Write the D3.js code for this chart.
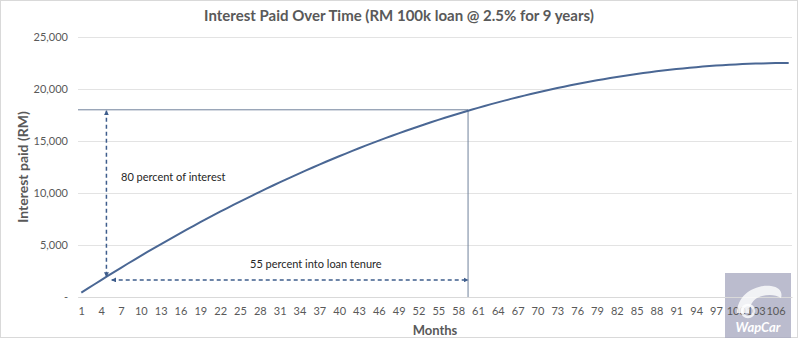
<!DOCTYPE html>
<html>
<head>
<meta charset="utf-8">
<script src="https://cdn.jsdelivr.net/npm/d3@7/dist/d3.min.js"></script>
<style>
  body { margin: 0; background: #fff; }
  svg { display: block; font-family: Lato, "Open Sans", sans-serif; }
</style>
</head>
<body>
<svg id="chart" width="800" height="340"></svg>
<script>
// -------------------- DATA --------------------
// cumulative interest paid (RM), month 1..108
const months = d3.range(1, 109);
const interestPaid = [
  413, 822, 1227, 1628, 2026, 2420, 2810, 3196, 3578, 3956,
  4331, 4702, 5069, 5432, 5791, 6147, 6499, 6846, 7190, 7531,
  7867, 8200, 8528, 8853, 9174, 9492, 9805, 10115, 10421, 10723,
  11021, 11315, 11606, 11892, 12175, 12454, 12729, 13001, 13268, 13532,
  13792, 14048, 14301, 14549, 14794, 15034, 15271, 15505, 15734, 15960,
  16181, 16399, 16613, 16823, 17030, 17232, 17431, 17626, 17817, 18005,
  18188, 18368, 18544, 18716, 18884, 19048, 19209, 19365, 19518, 19667,
  19813, 19954, 20092, 20226, 20356, 20482, 20604, 20723, 20837, 20948,
  21055, 21158, 21258, 21353, 21445, 21533, 21617, 21697, 21774, 21846,
  21915, 21980, 22041, 22099, 22152, 22202, 22248, 22290, 22328, 22362,
  22393, 22420, 22443, 22462, 22477, 22489, 22496, 22500
];
const xTickLabels = [1, 4, 7, 10, 13, 16, 19, 22, 25, 28, 31, 34, 37, 40, 43, 46, 49, 52,
  55, 58, 61, 64, 67, 70, 73, 76, 79, 82, 85, 88, 91, 94, 97, 100, 103, 106];
const yTicks = [0, 5000, 10000, 15000, 20000, 25000];

// annotation values
const markLevel = 18000;      // 80 percent of interest
const markMonth = 59.5;       // 55 percent into tenure
const vArrow = { month: 4.8, from: 18000, to: 1950 };
const hArrow = { value: 1640, from: 5.6, to: 59.5 };

// -------------------- SCALES --------------------
const svg = d3.select("#chart");
const plotLeft = 78, plotRight = 792, plotTop = 37, plotBottom = 297;

const x = d3.scaleLinear().domain([0.5, 108.5]).range([plotLeft, plotRight]);
const y = d3.scaleLinear().domain([0, 25000]).range([plotBottom, plotTop]);

// chart frame
svg.append("rect")
  .attr("x", 0.5).attr("y", 0.5)
  .attr("width", 797).attr("height", 337)
  .attr("fill", "none")
  .attr("stroke", "#d9d9d9");

// watermark box (behind the labels)
const wm = svg.append("g").attr("transform", "translate(725,273)");
wm.append("rect")
  .attr("width", 66).attr("height", 65)
  .attr("fill", "#a4a6be").attr("opacity", 0.75);

// -------------------- GRID + AXES --------------------
const yAxis = d3.axisLeft(y)
  .tickValues(yTicks)
  .tickSize(-(plotRight - plotLeft))
  .tickPadding(10)
  .tickFormat(d => d === 0 ? "-" : d3.format(",")(d));

svg.append("g")
  .attr("transform", `translate(${plotLeft},0)`)
  .call(yAxis)
  .call(g => g.select(".domain").remove())
  .call(g => g.selectAll(".tick line").attr("stroke", "#e3e3e3"))
  .call(g => g.selectAll(".tick text")
    .attr("fill", "#595959").style("font-size", "11px").style("font-family", "Lato"));

const xAxis = d3.axisBottom(x)
  .tickValues(xTickLabels)
  .tickSize(0)
  .tickPadding(10)
  .tickFormat(d => d);

svg.append("g")
  .attr("transform", `translate(0,${plotBottom})`)
  .call(xAxis)
  .call(g => g.select(".domain").attr("stroke", "#d9d9d9"))
  .call(g => g.selectAll(".tick text")
    .attr("fill", "#595959").style("font-size", "11px").style("font-family", "Lato"));

// -------------------- TITLES --------------------
svg.append("text")
  .attr("x", 399).attr("y", 21)
  .attr("text-anchor", "middle")
  .attr("fill", "#595959")
  .style("font-size", "15px").style("font-weight", "bold")
  .text("Interest Paid Over Time (RM 100k loan @ 2.5% for 9 years)");

svg.append("text")
  .attr("transform", `translate(28,${(plotTop + plotBottom) / 2}) rotate(-90)`)
  .attr("text-anchor", "middle")
  .attr("fill", "#595959")
  .style("font-size", "14px").style("font-weight", "bold")
  .text("Interest paid (RM)");

svg.append("text")
  .attr("x", (plotLeft + plotRight) / 2).attr("y", 335)
  .attr("text-anchor", "middle")
  .attr("fill", "#595959")
  .style("font-size", "13px").style("font-weight", "bold")
  .text("Months");

// -------------------- MARKER LINES --------------------
svg.append("line")
  .attr("x1", x(0.5)).attr("x2", x(markMonth))
  .attr("y1", y(markLevel)).attr("y2", y(markLevel))
  .attr("stroke", "#6f819b").attr("stroke-width", 1);

svg.append("line")
  .attr("x1", x(markMonth)).attr("x2", x(markMonth))
  .attr("y1", y(markLevel)).attr("y2", y(0))
  .attr("stroke", "#6f819b").attr("stroke-width", 1);

// -------------------- CURVE --------------------
const line = d3.line()
  .x((d, i) => x(months[i]))
  .y(d => y(d));

svg.append("path")
  .datum(interestPaid)
  .attr("fill", "none")
  .attr("stroke", "#4a6794")
  .attr("stroke-width", 2)
  .attr("d", line);

// -------------------- ARROWS --------------------
const defs = svg.append("defs");
["start", "end"].forEach(k => {
  defs.append("marker")
    .attr("id", "arrow-" + k)
    .attr("viewBox", "0 0 10 10")
    .attr("refX", 9).attr("refY", 5)
    .attr("markerWidth", 5).attr("markerHeight", 5)
    .attr("markerUnits", "userSpaceOnUse")
    .attr("orient", k === "start" ? "auto-start-reverse" : "auto")
    .append("path")
    .attr("d", "M0,0 L10,5 L0,10 Z")
    .attr("fill", "#3e5d8c");
});

svg.append("line")
  .attr("x1", x(vArrow.month)).attr("x2", x(vArrow.month))
  .attr("y1", y(vArrow.from) + 1).attr("y2", y(vArrow.to))
  .attr("stroke", "#3e5d8c").attr("stroke-width", 1.5)
  .attr("stroke-dasharray", "4,3")
  .attr("marker-start", "url(#arrow-start)")
  .attr("marker-end", "url(#arrow-end)");

svg.append("line")
  .attr("x1", x(hArrow.from)).attr("x2", x(hArrow.to))
  .attr("y1", y(hArrow.value)).attr("y2", y(hArrow.value))
  .attr("stroke", "#3e5d8c").attr("stroke-width", 1.5)
  .attr("stroke-dasharray", "4,3")
  .attr("marker-start", "url(#arrow-start)")
  .attr("marker-end", "url(#arrow-end)");

svg.append("text")
  .attr("x", 121).attr("y", 181)
  .attr("fill", "#262626")
  .style("font-size", "11px")
  .text("80 percent of interest");

svg.append("text")
  .attr("x", 250).attr("y", 268)
  .attr("fill", "#262626")
  .style("font-size", "11px")
  .text("55 percent into loan tenure");

// -------------------- WATERMARK LOGO --------------------
const logo = svg.append("g").attr("transform", "translate(725,273)");
logo.append("path")
  .attr("d", "M12,40 C12,22 30,11 46,13 C54,14 58,19 56,25 C50,21 40,21 32,25 C26,29 24,35 24,40")
  .attr("fill", "#fff").attr("opacity", 0.8);
logo.append("circle")
  .attr("cx", 23).attr("cy", 38).attr("r", 6)
  .attr("fill", "none").attr("stroke", "#fff").attr("stroke-width", 2.5).attr("opacity", 0.8);
logo.append("text")
  .attr("x", 33).attr("y", 59)
  .attr("text-anchor", "middle")
  .attr("fill", "#fff")
  .style("font-size", "13px").style("font-weight", "bold").style("font-style", "italic")
  .text("WapCar");
</script>
</body>
</html>
